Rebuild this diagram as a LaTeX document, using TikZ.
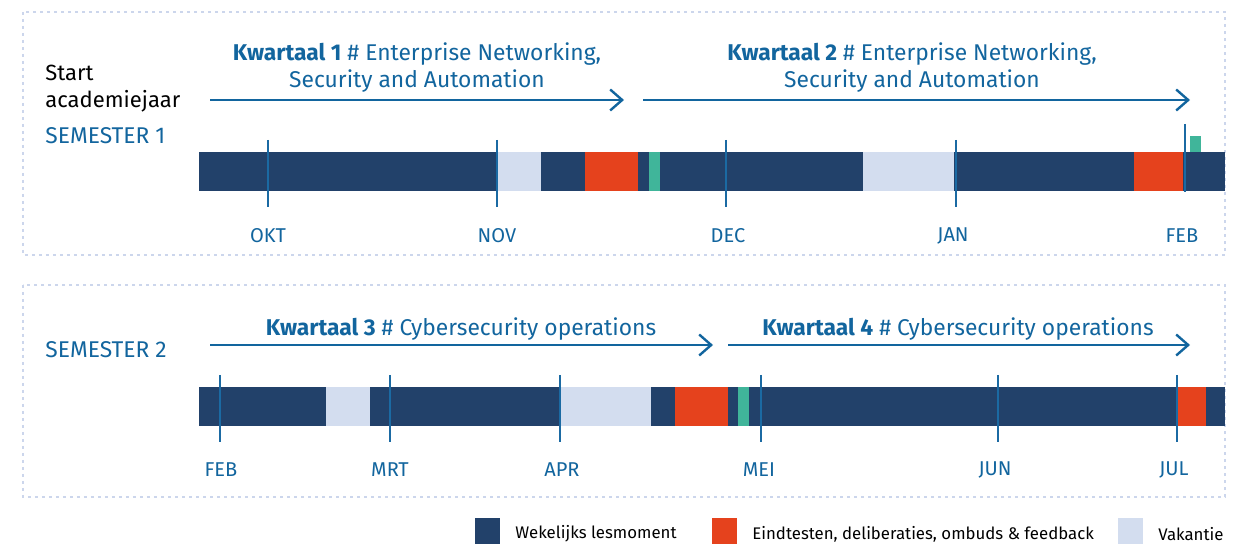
\documentclass[tikz,border=0pt]{standalone}
\usepackage{fontspec}
\setmainfont{Fira Sans}
\usetikzlibrary{arrows.meta}
\definecolor{navy}{HTML}{22416A}
\definecolor{exam}{HTML}{E5421D}
\definecolor{vac}{HTML}{D3DDEF}
\definecolor{mint}{HTML}{40B59A}
\definecolor{tblue}{HTML}{12659E}
\definecolor{tick}{HTML}{1B6AA3}
\definecolor{dots}{HTML}{CCD6EC}
\begin{document}
\begin{tikzpicture}[x=0.5pt,y=-0.5pt,
  frame/.style={draw=dots,line width=1.3pt,dash pattern=on 1.3pt off 2.2pt},
  seg/.style={fill=#1,draw=none},
  monthtick/.style={draw=tick,line width=1pt},
  month/.style={text=tblue,font=\fontsize{10}{12}\selectfont,inner sep=0pt},
  qarrow/.style={draw=tblue,line width=1.2pt,-{Straight Barb[length=6pt,width=10.5pt]}},
  qtext/.style={text=tblue,font=\fontsize{11.4}{13.5}\selectfont,align=center,inner sep=0pt},
  semtext/.style={text=tblue,font=\fontsize{11.4}{13.5}\selectfont,anchor=west,inner sep=0pt},
  legbox/.style={fill=#1,draw=none,minimum width=12.5pt,minimum height=13pt,inner sep=0pt,anchor=north west},
  legtext/.style={font=\fontsize{8.4}{10}\selectfont,anchor=west,inner sep=0pt}
]
\useasboundingbox (0,0) rectangle (1253,544);

% frames
\draw[frame] (23,12) rectangle (1225,255);
\draw[frame] (23,285) rectangle (1225,497);

% ===== Semester 1 =====
\node[anchor=west,inner sep=0pt,align=left,font=\fontsize{11}{13.5}\selectfont] (start) at (45,89) {Start\\academiejaar};
\node[semtext] (sem1) at (45,136) {SEMESTER 1};

\node[qtext] (q1) at (417,68) {\textbf{Kwartaal 1} \# Enterprise Networking,\\Security and Automation};
\node[qtext] (q2) at (912,68) {\textbf{Kwartaal 2} \# Enterprise Networking,\\Security and Automation};
\coordinate (a1s) at (210,100); \coordinate (a1e) at (624,100);
\coordinate (a2s) at (643,100); \coordinate (a2e) at (1190,100);
\draw[qarrow] (a1s) -- (a1e);
\draw[qarrow] (a2s) -- (a2e);

\fill[seg=navy] (199,152) rectangle (1225,191);
\fill[seg=vac] (497,152) rectangle (541,191);
\fill[seg=exam] (585,152) rectangle (638,191);
\fill[seg=mint] (649,152) rectangle (660,191);
\fill[seg=vac] (863,152) rectangle (954,191);
\fill[seg=exam] (1134,152) rectangle (1183,191);
\fill[seg=mint] (1190,136) rectangle (1201,152);

\foreach \x/\m/\lx in {268/OKT/268,497/NOV/497,726/DEC/728,956/JAN/953}{
  \draw[monthtick] (\x,140) -- (\x,207);
  \node[month] (m1\m) at (\lx,236) {\m};
}
\draw[monthtick] (1185,124) -- (1185,192);
\node[month] (m1FEB) at (1182,236) {FEB};

% ===== Semester 2 =====
\node[semtext] (sem2) at (45,350) {SEMESTER 2};
\node[qtext] (q3) at (461,329) {\textbf{Kwartaal 3} \# Cybersecurity operations};
\node[qtext] (q4) at (958,329) {\textbf{Kwartaal 4} \# Cybersecurity operations};
\coordinate (a3s) at (210,345); \coordinate (a3e) at (713,345);
\coordinate (a4s) at (728,345); \coordinate (a4e) at (1190,345);
\draw[qarrow] (a3s) -- (a3e);
\draw[qarrow] (a4s) -- (a4e);

\fill[seg=navy] (199,387) rectangle (1225,426);
\fill[seg=vac] (326,387) rectangle (370,426);
\fill[seg=vac] (560,387) rectangle (651,426);
\fill[seg=exam] (675,387) rectangle (728,426);
\fill[seg=mint] (738,387) rectangle (749,426);
\fill[seg=exam] (1178,387) rectangle (1206,426);

\foreach \x/\m/\lx in {220/FEB/221,390/MRT/390,560/APR/562,761/MEI/759,998/JUN/995,1177/JUL/1174}{
  \draw[monthtick] (\x,375) -- (\x,442);
  \node[month] (m2\m) at (\lx,470) {\m};
}

% ===== Legend =====
\node[legbox=navy] (l1) at (475,518) {};
\node[legtext] (t1) at (515,534) {Wekelijks lesmoment};
\node[legbox=exam] (l2) at (712,518) {};
\node[legtext] (t2) at (752,534) {Eindtesten, deliberaties, ombuds \& feedback};
\node[legbox=vac] (l3) at (1118,518) {};
\node[legtext] (t3) at (1158,534) {Vakantie};
\end{tikzpicture}
\end{document}
